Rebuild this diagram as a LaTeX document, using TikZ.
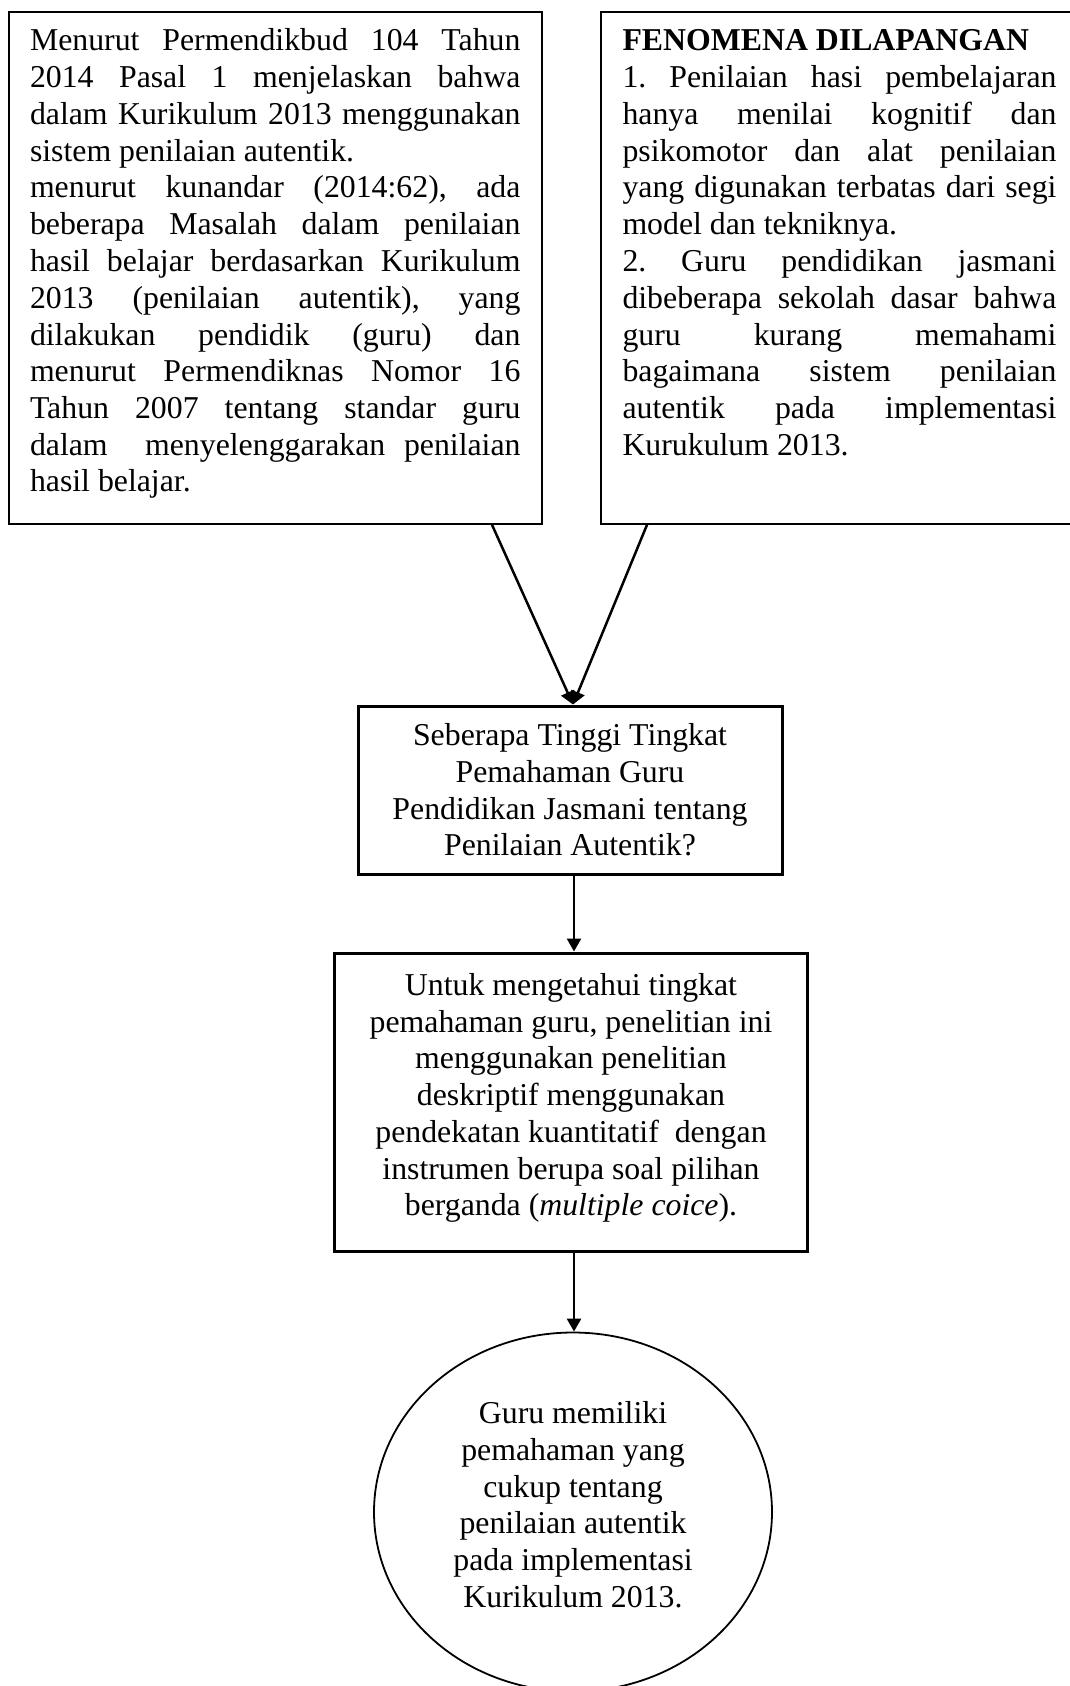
\documentclass[tikz,border=0pt]{standalone}
\usepackage{fontspec}
\setmainfont{Liberation Serif}
\usetikzlibrary{positioning,shapes.geometric,arrows.meta}
\frenchspacing

\begin{document}
\begin{tikzpicture}[x=1pt,y=-1pt,
		font=\fontsize{31.8}{36.75}\selectfont,
		kotak/.style={draw,line width=2pt,anchor=north west,align=justify,inner xsep=21.5pt,inner ysep=0pt,text height=39.2pt,text depth=472.8pt},
		kotaktebal/.style={draw,line width=3pt,align=center,inner sep=0pt},
		bulat/.style={draw,ellipse,line width=1.8pt,align=center,inner sep=0pt},
		panah/.style={line width=2.5pt,-{Triangle[length=13pt,width=14pt]}}]
		\useasboundingbox (0,0) rectangle (1070,1686);
		\tolerance=10000 \hbadness=10000
		\node[kotak,text width=490.5pt] (kajian) at (7.5,10.8) {Menurut Permendikbud 104 Tahun\linebreak 2014 Pasal 1 menjelaskan bahwa\linebreak dalam Kurikulum 2013 menggunakan\linebreak sistem penilaian autentik.\par
			menurut kunandar (2014:62), ada\linebreak beberapa Masalah dalam penilaian\linebreak hasil belajar berdasarkan Kurikulum\linebreak 2013 (penilaian autentik), yang\linebreak dilakukan pendidik (guru) dan\linebreak menurut Permendiknas Nomor 16\linebreak Tahun 2007 tentang standar guru\linebreak dalam\ \ menyelenggarakan penilaian\linebreak hasil belajar.};
		\node[kotak,text width=434pt] (fenomena) at (600,10.8) {\textbf{FENOMENA DILAPANGAN}\par
			1. Penilaian hasi pembelajaran\linebreak hanya menilai kognitif dan\linebreak psikomotor dan alat penilaian\linebreak yang digunakan terbatas dari segi\linebreak model dan tekniknya.\par
			2. Guru pendidikan jasmani\linebreak dibeberapa sekolah dasar bahwa\linebreak guru kurang memahami\linebreak bagaimana sistem penilaian\linebreak autentik pada implementasi\linebreak Kurukulum 2013.};
		\node[kotaktebal,minimum width=424pt,minimum height=168pt] (tanya) at (570,790) {Seberapa Tinggi Tingkat\\Pemahaman Guru\\Pendidikan Jasmani tentang\\Penilaian Autentik?};
		\node[kotaktebal,minimum width=472.5pt,minimum height=298pt,text depth=15pt] (metode) at (571,1102) {Untuk mengetahui tingkat\\pemahaman guru, penelitian ini\\menggunakan penelitian\\deskriptif menggunakan\\pendekatan kuantitatif\ \ dengan\\instrumen berupa soal pilihan\\berganda (\textit{multiple coice}).};
		\node[bulat,minimum width=398pt,minimum height=359pt,text depth=15pt] (hasil) at (573,1512) {Guru memiliki\\pemahaman yang\\cukup tentang\\penilaian autentik\\pada implementasi\\Kurikulum 2013.};
		%\draw[help lines] (0,0) grid[step=100] (1070,1686);
		\draw[panah] ([xshift=-51pt]kajian.south east) -- ([xshift=3pt]tanya.north);
		\draw[panah] ([xshift=47pt]fenomena.south west) -- ([xshift=3pt]tanya.north);
		\draw[panah] ([xshift=4pt]tanya.south) -- ([xshift=3pt]metode.north);
		\draw[panah] ([xshift=3pt]metode.south) -- ([xshift=1pt]hasil.north);
	\end{tikzpicture}
\end{document}
